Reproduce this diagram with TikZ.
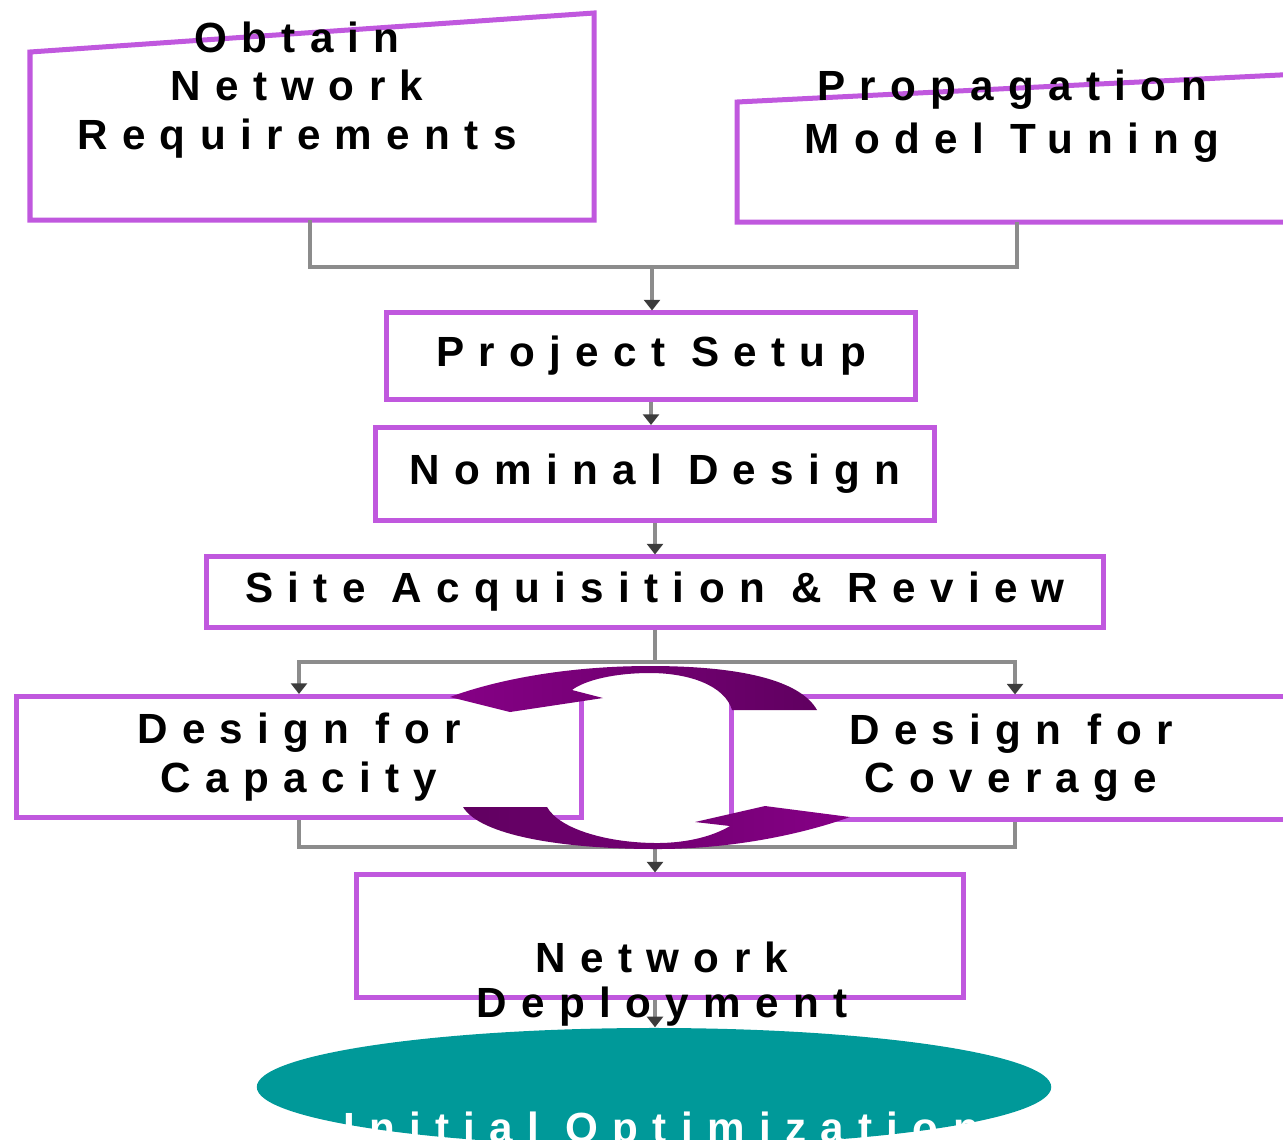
\documentclass[tikz,border=0pt]{standalone}
\usepackage{fontspec}
\newfontfamily\flowfont[LetterSpace=34]{Liberation Sans Bold}
\usetikzlibrary{arrows.meta,positioning,calc,shapes.geometric}
\definecolor{boxline}{RGB}{192,88,222}
\definecolor{linkgray}{RGB}{140,140,140}
\definecolor{tipgray}{RGB}{60,60,60}
\definecolor{cycdark}{RGB}{96,0,96}
\definecolor{cyclight}{RGB}{134,0,134}
\definecolor{optteal}{RGB}{0,153,153}

\begin{document}
\begin{tikzpicture}[x=0.01cm, y=-0.01cm,
  font=\flowfont\fontsize{12}{13.7}\selectfont,
  frame/.style={draw=boxline, line width=0.05cm, fill=white},
  stage/.style={frame, align=center, inner sep=0pt},
  lbl/.style={align=center, inner sep=0pt},
  link/.style={draw=linkgray, line width=0.04cm},
  flow/.style={link, -{Triangle[length=3pt,width=4.5pt,color=tipgray]}}
]
\useasboundingbox (0,0) rectangle (1283,1139);
\clip (0,0) rectangle (1283,1139);

% inputs
\draw[frame] (30,220) -- (30,52) -- (594,13) -- (594,220) -- cycle;
\draw[frame] (737,222) -- (737,102) -- (1300,74) -- (1300,222) -- cycle;
\node[lbl] (obtain) at (297,90) {Obtain\\Network\\Requirements};
\node[lbl, font=\flowfont\fontsize{12}{15.1}\selectfont] (prop) at (1012,116) {Propagation\\Model Tuning};
\coordinate (obtainS) at (310,220);
\coordinate (propS) at (1017,222);
\coordinate (merge) at (652,267);

% main flow
\node[stage, minimum width=5.29cm, minimum height=0.86cm] (setup) at (651,356) {Project Setup};
\node[stage, minimum width=5.58cm, minimum height=0.93cm] (nominal) at (655,474) {Nominal Design};
\node[stage, minimum width=8.97cm, minimum height=0.70cm] (site) at (655,592) {Site Acquisition \& Review};
\coordinate (split) at (655,662);
\node[stage, minimum width=5.65cm, minimum height=1.21cm] (capacity) at (299,757) {Design for\\Capacity};
\node[stage, minimum width=5.58cm, minimum height=1.22cm] (coverage) at (1011,758) {Design for\\Coverage};
\coordinate (join) at (655,847);
\node[stage, minimum width=6.07cm, minimum height=1.22cm] (deploy) at (660,936) {};
\node[lbl, font=\flowfont\fontsize{12}{12.8}\selectfont] (deploytxt) at (662,984) {Network\\Deployment};
\node[ellipse, fill=optteal, minimum width=7.94cm, minimum height=1.18cm, inner sep=0pt] (opt) at (654,1087) {};
\node[lbl, text=white] (opttxt) at (661,1132) {Initial Optimization};

% connectors
\draw[link] (obtainS) |- (merge) -| (propS);
\draw[flow] (merge) -- (merge |- setup.north);
\draw[flow] (setup.south) -- (setup.south |- nominal.north);
\draw[flow] (nominal.south) -- (nominal.south |- site.north);
\draw[link] (site.south) -- (split);
\draw[flow] (split) -| (capacity.north);
\draw[flow] (split) -| ([xshift=0.04cm]coverage.north);
\draw[link] (capacity.south) |- (join) -| ([xshift=0.04cm]coverage.south);
\draw[flow] (join) -- (join |- deploy.north);
\draw[flow] (join |- deploy.south) -- (join |- opt.north);

% iteration arrows
\shade[left color=cyclight, right color=cycdark]
  (450,697) .. controls (490,682) and (560,666) .. (650,666)
  .. controls (740,666) and (800,680) .. (817,710) -- (732,710)
  .. controls (725,686) and (690,673) .. (650,673)
  .. controls (615,673) and (585,680) .. (572,690)
  -- (603,698) -- (510,712) -- cycle;
\shade[left color=cycdark, right color=cyclight]
  (463,807) -- (547,807)
  .. controls (560,830) and (610,843) .. (657,843)
  .. controls (690,843) and (715,835) .. (730,826)
  -- (695,822) -- (765,806) -- (850,817)
  .. controls (800,835) and (730,849) .. (657,849)
  .. controls (560,849) and (480,835) .. (463,807) -- cycle;
\end{tikzpicture}
\end{document}
